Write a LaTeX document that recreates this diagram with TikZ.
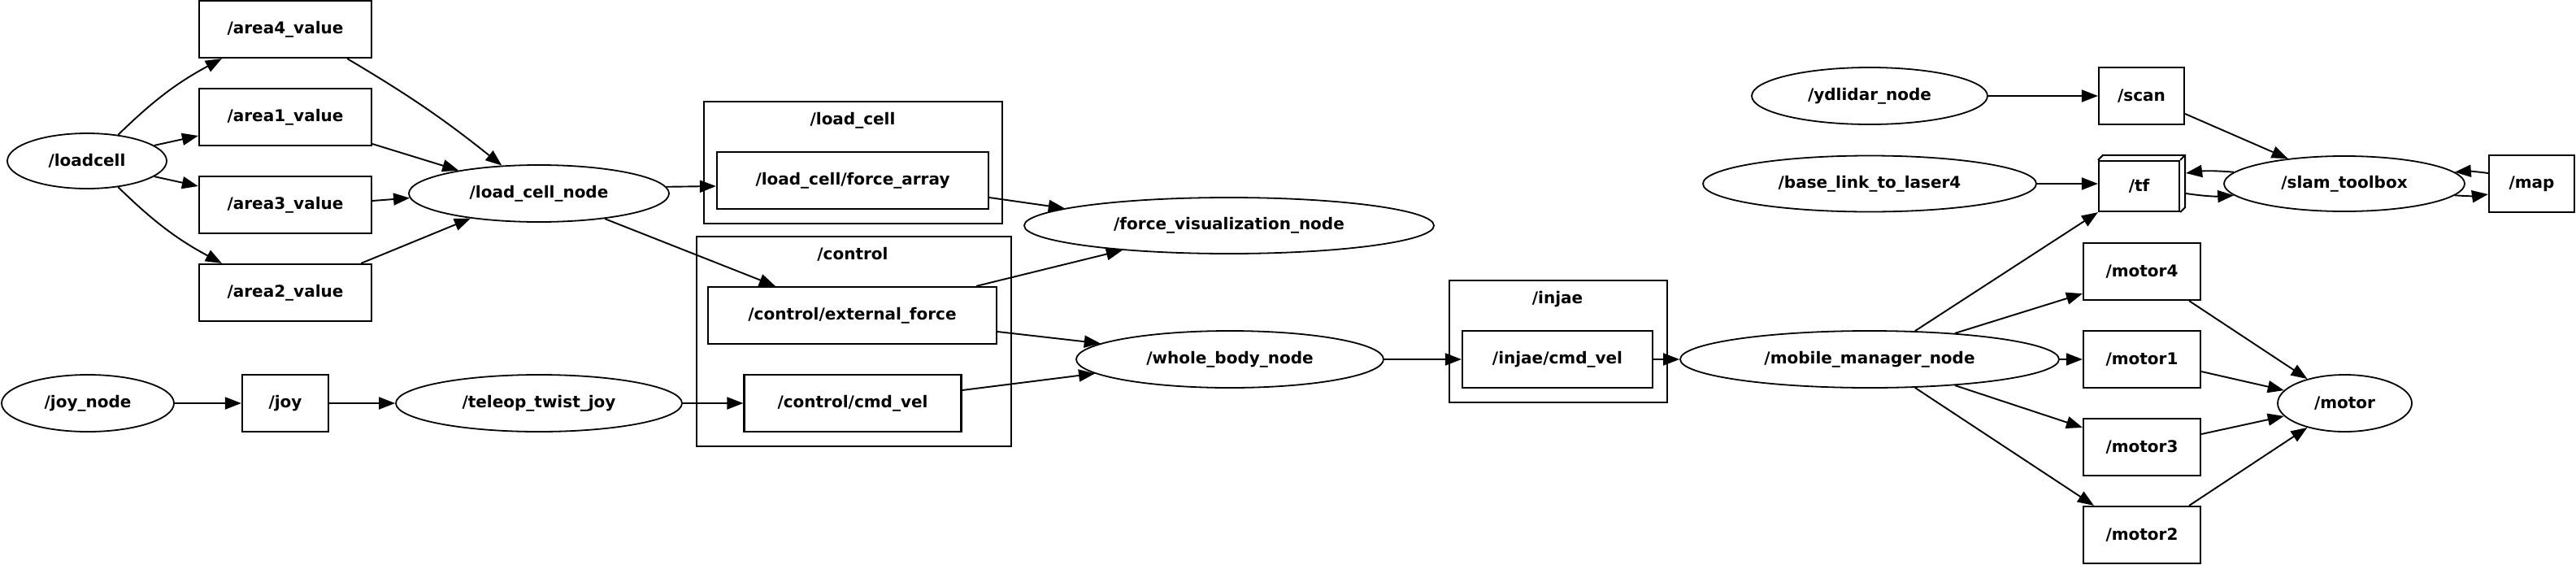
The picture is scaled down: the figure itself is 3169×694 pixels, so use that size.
\documentclass[tikz,border=0pt]{standalone}
\usepackage{fontspec}
\setmainfont{DejaVu Sans}
\usetikzlibrary{arrows.meta,shapes.geometric}
\begin{document}
\begin{tikzpicture}[x=1pt,y=-1pt,
  lab/.style={font=\fontsize{20}{23}\selectfont\bfseries},
  topic/.style={draw, line width=2.2pt, rectangle, inner sep=0pt, lab},
  rnode/.style={draw, line width=1.8pt, ellipse, inner sep=0pt, lab},
  cluster/.style={draw, line width=2.4pt, rectangle, inner sep=0pt, anchor=north west},
  edge/.style={line width=1.9pt, -{Triangle[length=20pt,width=15pt]}},
]
\useasboundingbox[fill=white] (0,0) rectangle (3169,694);

% clusters
\node[cluster, minimum width=367pt, minimum height=150pt] (clload) at (865,124) {};
\node[lab] (clloadlab) at (1049,148) {/load\_cell};
\node[cluster, minimum width=387pt, minimum height=258pt] (clctrl) at (856,290) {};
\node[lab] (clctrllab) at (1049,313) {/control};
\node[cluster, minimum width=268pt, minimum height=150pt] (clinjae) at (1782,344) {};
\node[lab] (clinjaelab) at (1916,368) {/injae};

% topics
\node[topic, minimum width=212pt, minimum height=70pt] (area4) at (351,36) {/area4\_value};
\node[topic, minimum width=212pt, minimum height=70pt] (area1) at (351,144) {/area1\_value};
\node[topic, minimum width=212pt, minimum height=70pt] (area3) at (351,252) {/area3\_value};
\node[topic, minimum width=212pt, minimum height=70pt] (area2) at (351,360) {/area2\_value};
\node[topic, minimum width=334pt, minimum height=70pt] (forcearray) at (1049,222) {/load\_cell/force\_array};
\node[topic, minimum width=355pt, minimum height=70pt] (extforce) at (1048.5,388) {/control/external\_force};
\node[topic, minimum width=267pt, minimum height=70pt] (ctrlcmd) at (1049,496) {/control/cmd\_vel};
\node[topic, minimum width=106pt, minimum height=70pt] (joy) at (351,496) {/joy};
\node[topic, minimum width=234pt, minimum height=70pt] (injaecmd) at (1916,442) {/injae/cmd\_vel};
\node[topic, minimum width=105pt, minimum height=70pt] (scan) at (2634.5,118) {/scan};
\node[topic, minimum width=99pt, minimum height=62pt] (tf) at (2631.5,229) {/tf};
\draw[line width=2pt, line join=miter] (tf.north west) -- ++(6,-6) -- ([xshift=6pt,yshift=6pt]tf.north east)
   -- ([xshift=6pt,yshift=6pt]tf.south east) -- (tf.south east);
\draw[line width=2pt] (tf.north east) -- ++(6,-6);
\node[topic, minimum width=105pt, minimum height=70pt] (map) at (3114.5,226) {/map};
\node[topic, minimum width=144pt, minimum height=70pt] (motor4) at (2635,334) {/motor4};
\node[topic, minimum width=144pt, minimum height=70pt] (motor1) at (2635,442) {/motor1};
\node[topic, minimum width=144pt, minimum height=70pt] (motor3) at (2635,550) {/motor3};
\node[topic, minimum width=144pt, minimum height=70pt] (motor2) at (2635,658) {/motor2};

% ros nodes
\node[rnode, minimum width=196pt, minimum height=68pt] (loadcell) at (107,198) {/loadcell};
\node[rnode, minimum width=320pt, minimum height=70pt] (lcn) at (663,238) {/load\_cell\_node};
\node[rnode, minimum width=212pt, minimum height=70pt] (joynode) at (108,496) {/joy\_node};
\node[rnode, minimum width=352pt, minimum height=70pt] (teleop) at (663,496) {/teleop\_twist\_joy};
\node[rnode, minimum width=504pt, minimum height=69pt] (forcevis) at (1512,277.5) {/force\_visualization\_node};
\node[rnode, minimum width=378pt, minimum height=70pt] (wholebody) at (1513,442) {/whole\_body\_node};
\node[rnode, minimum width=466pt, minimum height=70pt] (mobile) at (2300,442) {/mobile\_manager\_node};
\node[rnode, minimum width=290pt, minimum height=70pt] (ydlidar) at (2300,118) {/ydlidar\_node};
\node[rnode, minimum width=410pt, minimum height=69pt] (baselink) at (2300,226) {/base\_link\_to\_laser4};
\node[rnode, minimum width=296pt, minimum height=68pt] (slam) at (2884,226) {/slam\_toolbox};
\node[rnode, minimum width=165pt, minimum height=70pt] (motor) at (2884.5,496) {/motor};

% edges
\draw[edge] (loadcell.40) to[bend left=8] ([xshift=29pt]area4.south west);
\draw[edge] (loadcell.13) -- ([yshift=-23pt]area1.west);
\draw[edge] (loadcell.-13) -- ([yshift=23pt]area3.west);
\draw[edge] (loadcell.-40) to[bend right=8] ([xshift=29pt]area2.north west);
\draw[edge] ([xshift=-31pt]area4.south east) to[bend left=4] (lcn.143);
\draw[edge] ([yshift=-33pt]area1.east) -- (lcn.164);
\draw[edge] ([yshift=5pt]area3.east) -- (lcn.182);
\draw[edge] ([xshift=-14pt]area2.north east) -- (lcn.200);
\draw[edge] (lcn.3) -- ([yshift=-7pt]forcearray.west);
\draw[edge] (lcn.-21) -- ([xshift=84pt]extforce.north west);
\draw[edge] ([yshift=-21pt]forcearray.east) -- (forcevis.174);
\draw[edge] ([xshift=-26pt]extforce.north east) -- (forcevis.193);
\draw[edge] ([yshift=-20pt]extforce.east) -- (wholebody.173);
\draw[edge] ([yshift=16pt]ctrlcmd.east) -- (wholebody.186);
\draw[edge] (joynode) -- (joy);
\draw[edge] (joy) -- (teleop);
\draw[edge] (teleop) -- (ctrlcmd);
\draw[edge] (wholebody) -- (injaecmd);
\draw[edge] (injaecmd) -- (mobile);
\draw[edge] (mobile.32) -- (tf.south west);
\draw[edge] (mobile.17) -- ([yshift=9pt]motor4.south west);
\draw[edge] (mobile) -- (motor1);
\draw[edge] (mobile.-17) -- ([yshift=-12pt]motor3.north west);
\draw[edge] (mobile.-32) -- ([xshift=14pt]motor2.north west);
\draw[edge] ([xshift=-15pt]motor4.south east) -- (motor.147);
\draw[edge] ([yshift=-15pt]motor1.east) -- (motor.168);
\draw[edge] ([yshift=16pt]motor3.east) -- (motor.192);
\draw[edge] ([xshift=-15pt]motor2.north east) -- (motor.213);
\draw[edge] (ydlidar) -- (scan);
\draw[edge] ([yshift=-22pt]scan.east) -- (slam.156);
\draw[edge] (baselink) -- ([yshift=3pt]tf.west);
\draw[edge] (slam.174) to[bend right=6] ([xshift=7pt,yshift=16pt]tf.east);
\draw[edge] ([xshift=7pt,yshift=-9pt]tf.east) to[bend right=6] (slam.186);
\draw[edge] ([yshift=13pt]map.west) to[bend right=6] (slam.6);
\draw[edge] (slam.-6) to[bend right=6] ([yshift=-13pt]map.west);
\end{tikzpicture}
\end{document}
